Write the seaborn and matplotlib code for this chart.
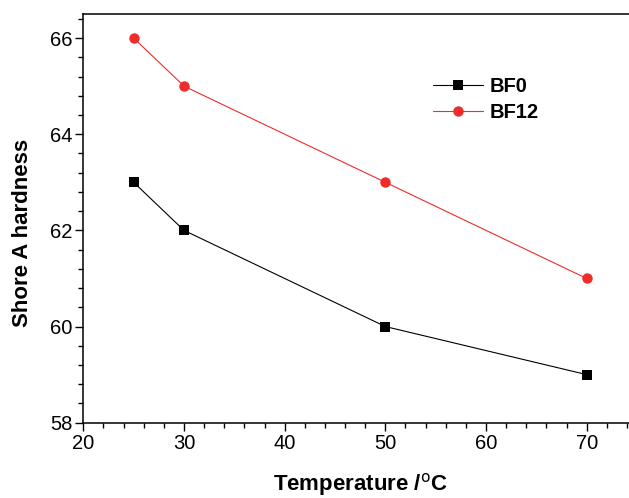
import numpy as np
import pandas as pd
import matplotlib
matplotlib.use("Agg")
import matplotlib.pyplot as plt
from matplotlib.ticker import MultipleLocator
import seaborn as sns

# data
temperature = [25, 30, 50, 70]
bf0_hardness = [63, 62, 60, 59]
bf12_hardness = [66, 65, 63, 61]
series_names = ["BF0", "BF12"]

sns.set_style("ticks")
plt.rcParams["font.family"] = ["Liberation Sans", "DejaVu Sans"]
plt.rcParams["text.color"] = "black"
plt.rcParams["axes.labelcolor"] = "black"

df = pd.DataFrame({
    "Temperature": temperature * 2,
    "Hardness": bf0_hardness + bf12_hardness,
    "Sample": [series_names[0]] * len(temperature) + [series_names[1]] * len(temperature),
})

W, H = 629, 498
fig = plt.figure(figsize=(W / 100, H / 100), dpi=100)
# axes run a little past the right edge, like the cropped original
x0, x1 = 83.3, 637.0
y_top, y_bot = 14.0, 422.7
ax = fig.add_axes([x0 / W, 1 - y_bot / H, (x1 - x0) / W, (y_bot - y_top) / H])

palette = {"BF0": "black", "BF12": "#ec2d2a"}
sns.lineplot(data=df, x="Temperature", y="Hardness", hue="Sample", style="Sample",
             palette=palette, markers={"BF0": "s", "BF12": "o"}, dashes=False,
             markersize=7, linewidth=0.8, markeredgewidth=0, ax=ax, legend=False)
for line, name in zip(ax.lines, series_names):
    line.set_label(name)
    if name == "BF0":
        line.set_markersize(6.5)
    else:
        line.set_markersize(7.5)

ax.set_xlim(20, 75)
ax.set_ylim(58, 66.5)
ax.xaxis.set_major_locator(MultipleLocator(10))
ax.xaxis.set_minor_locator(MultipleLocator(2))
ax.yaxis.set_major_locator(MultipleLocator(2))
ax.yaxis.set_minor_locator(MultipleLocator(0.4))

for s in ["top", "bottom", "left", "right"]:
    ax.spines[s].set_linewidth(1.1)
    ax.spines[s].set_color("black")
ax.spines["right"].set_visible(False)

ax.tick_params(which="major", direction="out", length=5.5, width=1.0, labelsize=14.5, pad=2.5, colors="black")
ax.tick_params(which="minor", direction="out", length=3.5, width=1.0, colors="black")
ax.tick_params(top=False, right=False)

ax.set_xlabel("Temperature /$^\\mathrm{o}$C", fontsize=16, fontweight="bold", labelpad=13)
ax.set_ylabel("Shore A hardness", fontsize=16, fontweight="bold")
ax.yaxis.set_label_coords(-50 / (x1 - x0), (y_bot - 233) / (y_bot - y_top))

ax.legend(frameon=False, loc="upper left", bbox_to_anchor=(433 / W, 1 - 77 / H),
          bbox_transform=fig.transFigure, borderpad=0, borderaxespad=0,
          handlelength=2.5, handletextpad=0.3, labelspacing=0.35,
          prop={"size": 14.5, "weight": "bold"})

fig.savefig("out.png", dpi=100)
